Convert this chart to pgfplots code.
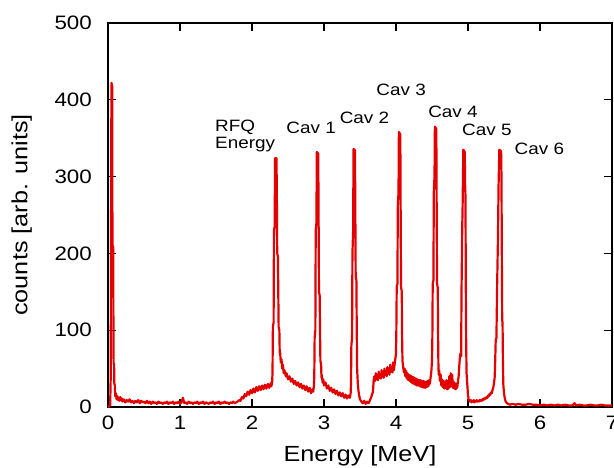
\documentclass[border=0pt]{standalone}
\usepackage{fontspec}
\setmainfont[FakeStretch=1.15]{Liberation Sans}
\usepackage{pgfplots}
\pgfplotsset{compat=1.18}
\definecolor{specred}{RGB}{226,0,0}

\begin{document}
\begin{tikzpicture}
  \begin{axis}[
      scale only axis,
      width=504bp, height=384bp,
      at={(0,0)}, anchor=south west,
      xmin=0, xmax=7, ymin=0, ymax=500,
      xtick={0,1,...,7}, ytick={0,100,...,500},
      tick align=inside,
      major tick length=8bp,
      axis line style={line width=1.1pt},
      every tick/.style={black, line width=1.1pt},
      tick label style={font=\fontsize{19.5}{22}\selectfont, inner sep=0pt},
      xticklabel style={anchor=center, yshift=-16bp},
      yticklabel style={anchor=east, xshift=-16bp},
      /pgf/number format/assume math mode=true,
      xlabel={Energy [MeV]},
      ylabel={counts [arb. units]},
      label style={font=\fontsize{22}{26}\selectfont},
      xlabel style={at={(axis description cs:0.5,-0.128)}, anchor=center},
      ylabel style={at={(axis description cs:-0.171,0.5)}, anchor=center},
      clip=false,
    ]
    \addplot[specred, line width=2.2pt, sharp plot, line join=round] coordinates {
      (0.00,0) (0.03,2) (0.038,40) (0.044,300) (0.048,422) (0.058,418)
      (0.062,211) (0.072,208) (0.075,120) (0.078,57) (0.085,55) (0.088,31)
      (0.095,28) (0.10,14) (0.11,18) (0.12,10) (0.13,14) (0.14,9) (0.15,12)
      (0.16,8) (0.17,13) (0.18,9) (0.19,11) (0.20,7) (0.22,10) (0.24,6)
      (0.26,9) (0.28,7) (0.30,10) (0.32,6) (0.34,8) (0.36,5) (0.38,8)
      (0.40,6) (0.42,9) (0.44,5) (0.46,8) (0.48,6) (0.50,7) (0.52,5)
      (0.54,8) (0.56,5) (0.58,7) (0.60,4) (0.62,7) (0.64,5) (0.66,6)
      (0.68,4) (0.70,7) (0.72,5) (0.74,6) (0.76,4) (0.78,6) (0.80,5)
      (0.82,7) (0.84,4) (0.86,6) (0.88,5) (0.90,7) (0.92,4) (0.94,6)
      (0.96,5) (0.98,7) (1.00,4) (1.02,6) (1.04,12) (1.06,5) (1.08,6)
      (1.10,4) (1.12,7) (1.14,5) (1.16,6) (1.18,4) (1.20,6) (1.22,5)
      (1.24,7) (1.26,4) (1.28,6) (1.30,5) (1.32,7) (1.34,4) (1.36,6)
      (1.38,5) (1.40,4) (1.42,6) (1.44,5) (1.46,7) (1.48,4) (1.50,6)
      (1.52,5) (1.54,7) (1.56,4) (1.58,6) (1.60,5) (1.62,7) (1.64,5)
      (1.66,6) (1.68,4) (1.70,6) (1.72,5) (1.74,7) (1.76,5) (1.78,6)
      (1.80,7) (1.82,9) (1.84,8) (1.86,13) (1.88,11) (1.90,17) (1.92,14)
      (1.94,20) (1.96,16) (1.98,22) (2.00,18) (2.02,24) (2.04,19) (2.06,26)
      (2.08,21) (2.10,27) (2.12,22) (2.14,28) (2.16,23) (2.18,29) (2.20,24)
      (2.22,30) (2.24,25) (2.26,31) (2.27,27) (2.28,33)
      (2.285,45) (2.29,104) (2.30,110) (2.305,230) (2.315,235) (2.32,324)
      (2.34,324) (2.345,280) (2.35,200) (2.36,196) (2.365,150) (2.37,104)
      (2.38,100) (2.385,70) (2.39,72) (2.40,58) (2.41,62) (2.42,50)
      (2.43,55) (2.44,44) (2.45,48) (2.47,40) (2.48,44) (2.50,36) (2.52,40)
      (2.54,33) (2.56,37) (2.58,30) (2.60,34) (2.62,28) (2.64,32) (2.66,26)
      (2.68,30) (2.70,24) (2.72,28) (2.74,22) (2.76,27) (2.78,20) (2.80,25)
      (2.82,18) (2.84,23) (2.85,20) (2.86,28)
      (2.865,40) (2.87,90) (2.88,100) (2.885,230) (2.895,240) (2.90,332)
      (2.92,330) (2.925,250) (2.93,150) (2.94,145) (2.945,100) (2.95,60)
      (2.96,55) (2.965,38) (2.97,42) (2.98,32) (2.99,36) (3.00,28) (3.02,32)
      (3.04,24) (3.06,28) (3.08,21) (3.10,25) (3.12,19) (3.14,23) (3.16,17)
      (3.18,21) (3.20,15) (3.22,19) (3.24,14) (3.26,18) (3.28,12) (3.30,16)
      (3.32,11) (3.34,15) (3.36,12) (3.37,18)
      (3.375,30) (3.38,80) (3.39,90) (3.395,200) (3.405,230) (3.41,336)
      (3.43,334) (3.435,260) (3.44,170) (3.45,165) (3.455,100) (3.46,50)
      (3.47,30) (3.48,20) (3.49,14) (3.50,10) (3.52,7) (3.54,5) (3.56,8)
      (3.58,4) (3.60,7) (3.62,5) (3.64,9) (3.66,14) (3.68,20) (3.69,35)
      (3.70,40) (3.71,34) (3.72,44) (3.73,36) (3.74,42) (3.75,35) (3.76,46)
      (3.77,38) (3.78,43) (3.79,37) (3.80,48) (3.81,40) (3.82,45) (3.83,38)
      (3.84,50) (3.85,42) (3.86,47) (3.87,40) (3.88,52) (3.89,44) (3.90,49)
      (3.91,42) (3.92,55) (3.93,46) (3.94,51) (3.95,45) (3.96,58) (3.97,48)
      (3.98,55) (3.99,62)
      (4.00,70) (4.005,100) (4.01,157) (4.02,160) (4.025,260) (4.035,280)
      (4.04,358) (4.06,355) (4.065,250) (4.07,157) (4.08,150) (4.085,90)
      (4.09,60) (4.10,52) (4.11,45) (4.12,50) (4.13,40) (4.14,47) (4.15,37)
      (4.16,44) (4.17,35) (4.18,42) (4.19,34) (4.20,41) (4.21,32) (4.22,40)
      (4.23,31) (4.24,39) (4.25,30) (4.26,38) (4.27,29) (4.28,37) (4.29,28)
      (4.30,36) (4.31,28) (4.32,35) (4.33,27) (4.34,35) (4.35,26) (4.36,34)
      (4.37,26) (4.38,34) (4.39,25) (4.40,33) (4.41,25) (4.42,33) (4.43,26)
      (4.44,34) (4.45,27) (4.46,35) (4.47,30) (4.48,38) (4.49,45)
      (4.50,60) (4.505,90) (4.51,161) (4.52,165) (4.525,280) (4.535,300)
      (4.54,365) (4.56,362) (4.565,260) (4.57,161) (4.58,155) (4.585,90)
      (4.59,48) (4.595,42) (4.60,48) (4.61,34) (4.62,42) (4.63,28) (4.64,36)
      (4.65,26) (4.66,34) (4.67,24) (4.68,33) (4.69,25) (4.70,35) (4.71,23)
      (4.72,32) (4.73,24) (4.74,40) (4.75,26) (4.76,44) (4.77,27) (4.78,42)
      (4.79,25) (4.80,33) (4.81,24) (4.82,31) (4.83,23) (4.84,30) (4.85,25)
      (4.86,33) (4.87,40) (4.88,55) (4.89,68) (4.90,70) (4.905,66)
      (4.91,150) (4.92,234) (4.925,260) (4.935,335) (4.955,332) (4.96,290)
      (4.965,274) (4.97,150) (4.975,80) (4.98,44) (4.99,30) (5.00,15)
      (5.01,10) (5.02,8) (5.03,7) (5.04,9) (5.05,6) (5.06,8) (5.07,7)
      (5.08,9) (5.09,6) (5.10,8) (5.11,7) (5.12,9) (5.13,7) (5.14,8)
      (5.15,7) (5.16,9) (5.17,8) (5.18,9) (5.19,8) (5.20,10) (5.21,9)
      (5.22,11) (5.23,10) (5.24,12) (5.25,11) (5.26,13) (5.27,12) (5.28,15)
      (5.29,14) (5.30,17) (5.31,16) (5.32,19) (5.33,18) (5.34,22) (5.35,25)
      (5.36,30) (5.37,38)
      (5.375,50) (5.385,87) (5.395,90) (5.405,160) (5.415,213) (5.425,290)
      (5.435,335) (5.46,333) (5.465,300) (5.47,200) (5.475,113) (5.48,110)
      (5.485,60) (5.49,30) (5.50,18) (5.51,12) (5.52,8) (5.54,5) (5.56,4)
      (5.58,3) (5.62,4) (5.66,3) (5.70,4) (5.75,3) (5.80,3) (5.85,4)
      (5.90,3) (5.95,3) (6.00,2) (6.05,3) (6.10,2) (6.15,3) (6.20,2)
      (6.25,3) (6.30,2) (6.35,3) (6.40,2) (6.45,2) (6.48,5) (6.50,2)
      (6.55,3) (6.60,2) (6.65,2) (6.70,3) (6.75,2) (6.80,2) (6.85,3)
      (6.90,2) (6.95,2) (7.00,2)
    };
    \node[font=\fontsize{16.5}{17.5}\selectfont, align=left, anchor=west]
      at (axis cs:1.44,353) {RFQ\\Energy};
    \node[font=\fontsize{16.5}{18}\selectfont, anchor=west] at (axis cs:2.43,363) {Cav 1};
    \node[font=\fontsize{16.5}{18}\selectfont, anchor=west] at (axis cs:3.17,377) {Cav 2};
    \node[font=\fontsize{16.5}{18}\selectfont, anchor=west] at (axis cs:3.68,413) {Cav 3};
    \node[font=\fontsize{16.5}{18}\selectfont, anchor=west] at (axis cs:4.40,384) {Cav 4};
    \node[font=\fontsize{16.5}{18}\selectfont, anchor=west] at (axis cs:4.87,361) {Cav 5};
    \node[font=\fontsize{16.5}{18}\selectfont, anchor=west] at (axis cs:5.60,336) {Cav 6};
  \end{axis}
  \pgfresetboundingbox
  \useasboundingbox (-108bp,-61bp) rectangle (506bp,407bp);
\end{tikzpicture}
\end{document}
